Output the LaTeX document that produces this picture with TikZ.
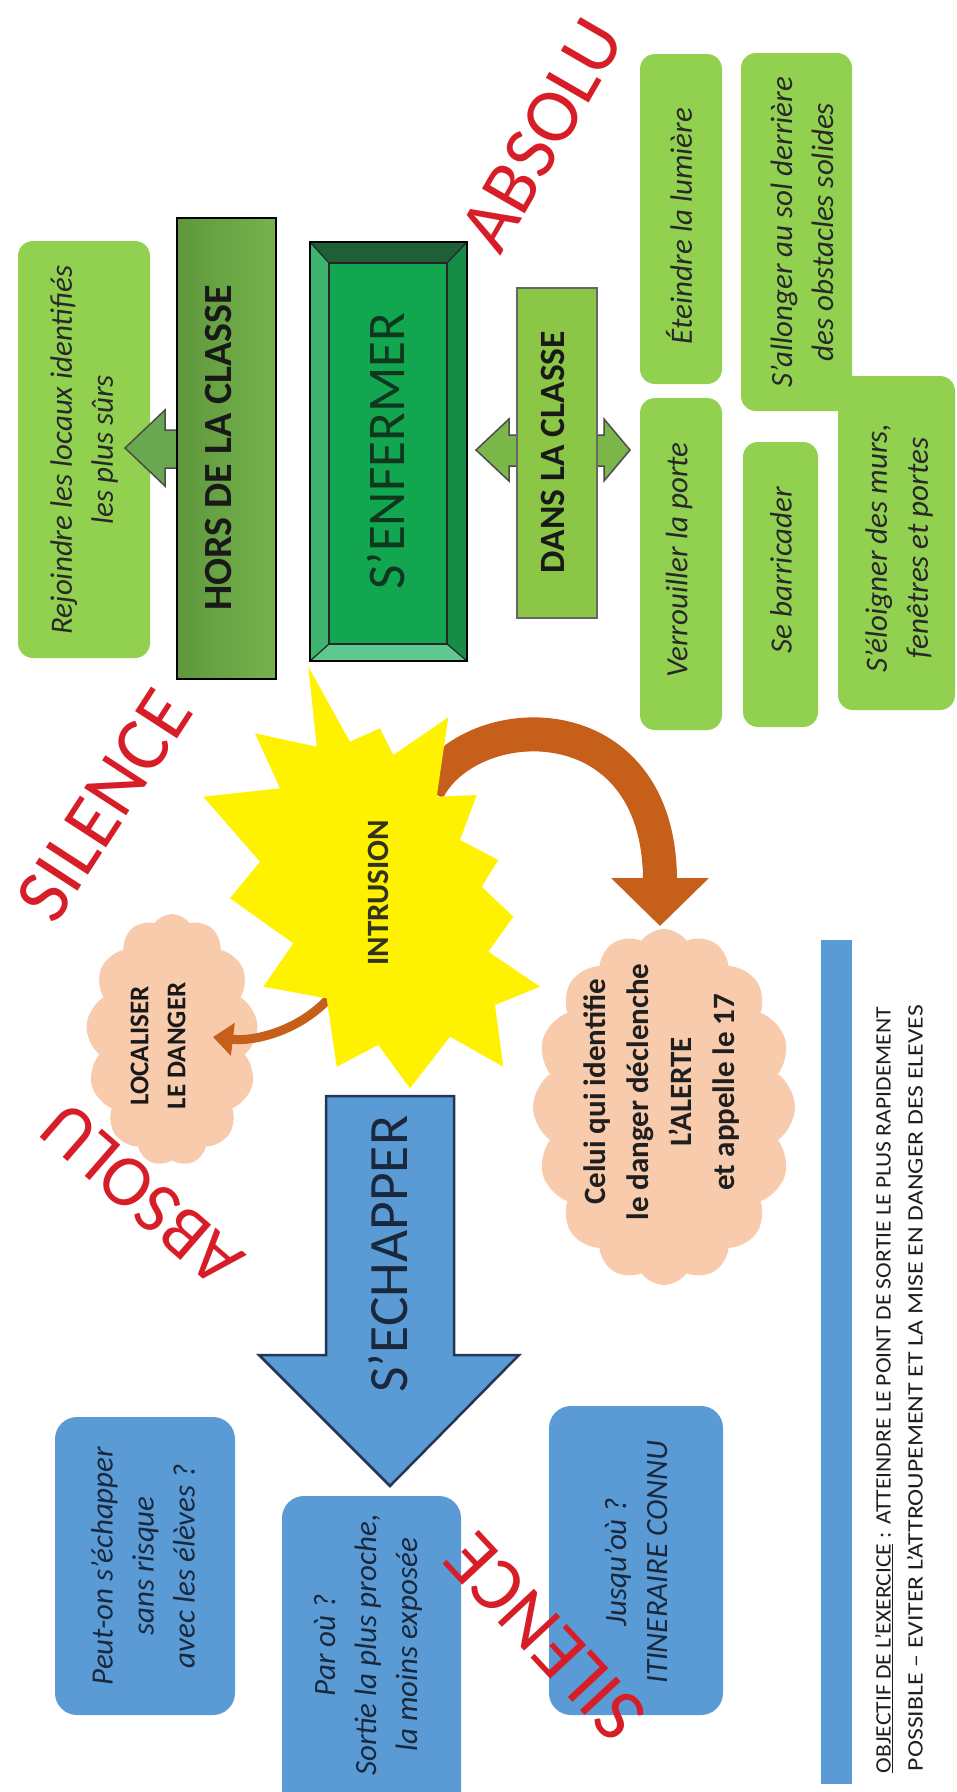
\documentclass[tikz,border=0pt]{standalone}
\usepackage{fontspec}
\usepackage{graphicx}
\setmainfont{Carlito}
\usetikzlibrary{shapes.symbols,arrows.meta}
\definecolor{lgreen}{RGB}{146,208,80}
\definecolor{mgreen}{RGB}{106,168,79}
\definecolor{dansgreen}{RGB}{140,198,70}
\definecolor{arrgreen}{RGB}{122,182,72}
\definecolor{bblue}{RGB}{91,155,213}
\definecolor{peach}{RGB}{248,203,173}
\definecolor{brownarrow}{RGB}{197,95,25}
\definecolor{redword}{RGB}{215,30,40}
\definecolor{txt}{RGB}{40,40,40}
\definecolor{navytxt}{RGB}{25,40,60}
\definecolor{bevtop}{RGB}{30,95,55}
\definecolor{bevleft}{RGB}{60,180,110}
\definecolor{bevright}{RGB}{22,140,70}
\definecolor{bevbottom}{RGB}{95,200,145}
\definecolor{bevcenter}{RGB}{18,166,80}
\definecolor{enftxt}{RGB}{15,55,30}
\begin{document}
\begin{tikzpicture}[x=1pt,y=-1pt,
  gbox/.style={fill=lgreen, rounded corners=15pt, inner sep=0pt, outer sep=0pt},
  bbox/.style={fill=bblue, rounded corners=22pt, inner sep=0pt, outer sep=0pt},
  itext/.style={rotate=90, font=\fontsize{31}{41}\selectfont\itshape, align=center, text=txt, inner sep=0pt},
  btext/.style={rotate=90, align=center, text=txt, inner sep=0pt},
  redw/.style={text=redword, inner sep=0pt},
  cloudbox/.style={cloud, cloud puff arc=110, cloud ignores aspect, fill=peach, inner sep=0pt},
  bigarr/.style={draw=brownarrow, line width=34pt, -{Triangle[width=95pt,length=48pt]}},
  smallarr/.style={draw=brownarrow, line width=9pt, -{Triangle[width=32pt,length=20pt]}},
]
\useasboundingbox (0,0) rectangle (957,1792);
\fill[white] (0,0) rectangle (957,1792);

% ---------- S'ENFERMER side ----------
\node[gbox, minimum width=132pt, minimum height=417pt] (rejo) at (84,449.5) {};
\node[itext] (rejo-t) at (84,450) {Rejoindre les locaux identifiés\\les plus sûrs};

% arrow from HORS to Rejoindre
\filldraw[fill=mgreen, draw=black!70, line width=1.5pt]
  (181,430) -- (165,430) -- (165,410) -- (125,448) -- (165,486) -- (165,468) -- (181,468) -- cycle;
\node[draw=black, line width=2pt, left color={rgb,255:red,95;green,152;blue,60}, right color={rgb,255:red,118;green,178;blue,78}, minimum width=99pt, minimum height=461pt, inner sep=0pt] (hors) at (226.5,448.5) {};
\node[btext, font=\fontsize{40}{44}\selectfont\bfseries, text=black!90] (hors-t) at (219,448) {HORS DE LA CLASSE};

% bevelled S'ENFERMER box
\fill[bevtop] (310,242) -- (467,242) -- (447,263) -- (329,263) -- cycle;
\fill[bevbottom] (310,661) -- (467,661) -- (447,644) -- (329,644) -- cycle;
\fill[bevleft] (310,242) -- (329,263) -- (329,644) -- (310,661) -- cycle;
\fill[bevright] (467,242) -- (447,263) -- (447,644) -- (467,661) -- cycle;
\draw[black!85, line width=1.2pt] (310,242) -- (329,263) (467,242) -- (447,263) (310,661) -- (329,644) (467,661) -- (447,644);
\node[fill=bevcenter, draw=black!85, line width=1.5pt, minimum width=118pt, minimum height=381pt, inner sep=0pt] (enf) at (388,453.5) {};
\draw[black, line width=2.5pt] (310,242) rectangle (467,661);
\node[btext, font=\fontsize{53}{56}\selectfont, text=enftxt] (enf-t) at (386,451) {S’ENFERMER};

% double arrow + DANS LA CLASSE
\filldraw[fill=arrgreen, draw=black!70, line width=1.5pt]
  (476,450) -- (509,419) -- (509,435) -- (604,435) -- (604,419) -- (630,450) -- (604,481) -- (604,466) -- (509,466) -- (509,481) -- cycle;
\node[fill=dansgreen, draw=black!60, line width=1.5pt, minimum width=80pt, minimum height=330pt, inner sep=0pt] (dans) at (557,453) {};
\node[btext, font=\fontsize{35.5}{40}\selectfont\bfseries, text=black!90] (dans-t) at (553,452) {DANS LA CLASSE};

% green action boxes
\node[gbox, minimum width=82pt, minimum height=330pt] (etei) at (681,219) {};
\node[itext] (etei-t) at (679,226) {Éteindre la lumière};
\node[gbox, minimum width=111pt, minimum height=358pt] (allo) at (796.5,232) {};
\node[gbox, minimum width=82pt, minimum height=332pt] (verr) at (681,564) {};
\node[itext] (verr-t) at (679,560) {Verrouiller la porte};
\node[gbox, minimum width=75pt, minimum height=285pt] (barr) at (780.5,584.5) {};
\node[itext] (barr-t) at (781,570) {Se barricader};
\node[gbox, minimum width=117pt, minimum height=334pt] (eloi) at (896.5,543) {};
\node[itext] (allo-t) at (802,232) {S’allonger au sol derrière\\des obstacles solides};
\node[itext] (eloi-t) at (899,548) {S’éloigner des murs,\\fenêtres et portes};

% ---------- clouds ----------
\node[cloudbox, cloud puffs=13, minimum width=172pt, minimum height=252pt] (loca) at (172,1040) {};
\node[btext, font=\fontsize{27}{37}\selectfont\bfseries, text=black!90] (loca-t) at (158,1046) {LOCALISER\\LE DANGER};
\node[cloudbox, cloud puffs=16, minimum width=262pt, minimum height=356pt] (celui) at (664,1107) {};
\node[btext, font=\fontsize{31}{43}\selectfont\bfseries, text=black!88] (celui-t) at (662,1092) {Celui qui identifie\\le danger déclenche\\L’ALERTE\\et appelle le 17};

% ---------- brown arrows (from inside the star) ----------
\coordinate (intr-ne) at (428,790);
\coordinate (celui-n) at (660,926);
\coordinate (intr-sw) at (336,990);
\coordinate (loca-e) at (213,1037);
\draw[bigarr] (intr-ne) .. controls (470,708) and (660,700) .. (celui-n);
\draw[smallarr] (intr-sw) .. controls (305,1030) and (255,1042) .. (loca-e);

% ---------- starburst ----------
\fill[yellow] (308.3,666.7) -- (350,741.7) -- (380,728.3) -- (393.3,755) -- (448.3,717.3) -- (436.7,796.7)
  -- (476.7,795) -- (460,840) -- (498.3,860) -- (481.7,886.7) -- (513.3,916.7) -- (488.3,951.7)
  -- (540,986.7) -- (495,1005) -- (503.3,1066.7) -- (450,1036.7) -- (410,1088.3) -- (378.3,1045)
  -- (336.7,1066.7) -- (326.7,998.3) -- (263.3,986.7) -- (293.3,943.3) -- (230,898.3) -- (260,861.7)
  -- (203.3,796.7) -- (280,788.3) -- (255,733.3) -- (316.7,746.7) -- cycle;
\node[btext, font=\fontsize{31}{34}\selectfont\bfseries, text={rgb,255:red,50;green,50;blue,30}] (intr) at (378,893) {INTRUSION};

% ---------- S'ECHAPPER side ----------
\filldraw[fill=bblue, draw={rgb,255:red,35;green,55;blue,85}, line width=2.5pt]
  (326,1096) -- (454,1096) -- (454,1355) -- (519,1355) -- (390,1486) -- (259,1355) -- (326,1355) -- cycle;
\node[btext, font=\fontsize{55.5}{58}\selectfont, text=navytxt] (echa-t) at (388,1254) {S’ECHAPPER};

\node[bbox, minimum width=180pt, minimum height=298pt] (peut) at (145,1566) {};
\node[itext, text=navytxt] (peut-t) at (143,1566) {Peut-on s’échapper\\sans risque\\avec les élèves ?};
\node[bbox, minimum width=179pt, minimum height=330pt] (paro) at (371.5,1661) {};
\node[itext, text=navytxt] (paro-t) at (368,1645) {Par où ?\\Sortie la plus proche,\\la moins exposée};
\node[bbox, minimum width=174pt, minimum height=309pt] (jusq) at (636,1560.5) {};
\node[itext, text=navytxt] (jusq-t) at (636,1562) {Jusqu’où ?\\ITINERAIRE CONNU};

% ---------- objective ----------
\node[fill=bblue, minimum width=31pt, minimum height=844pt, inner sep=0pt] (bar) at (836.5,1362) {};
\node[btext, font=\fontsize{22}{26}\selectfont, text=black!88] (obj1) at (884,1390) {\resizebox{766pt}{\height}{\underline{OBJECTIF DE L’EXERCICE} : ATTEINDRE LE POINT DE SORTIE LE PLUS RAPIDEMENT}};
\node[btext, font=\fontsize{22}{26}\selectfont, text=black!88] (obj2) at (915,1388) {\resizebox{766pt}{\height}{POSSIBLE – EVITER L’ATTROUPEMENT ET LA MISE EN DANGER DES ELEVES}};

% ---------- red words ----------
\node[redw, rotate=57, font=\fontsize{78}{80}\selectfont] (sil1) at (104,805) {SILENCE};
\node[redw, rotate=60, font=\fontsize{77}{80}\selectfont] (abs1) at (542,135) {ABSOLU};
\node[redw, rotate=139, font=\fontsize{73}{80}\selectfont] (abs2) at (142,1195) {ABSOLU};
\node[redw, rotate=133, font=\fontsize{77}{80}\selectfont] (sil2) at (545,1637) {SILENCE};
\end{tikzpicture}
\end{document}
